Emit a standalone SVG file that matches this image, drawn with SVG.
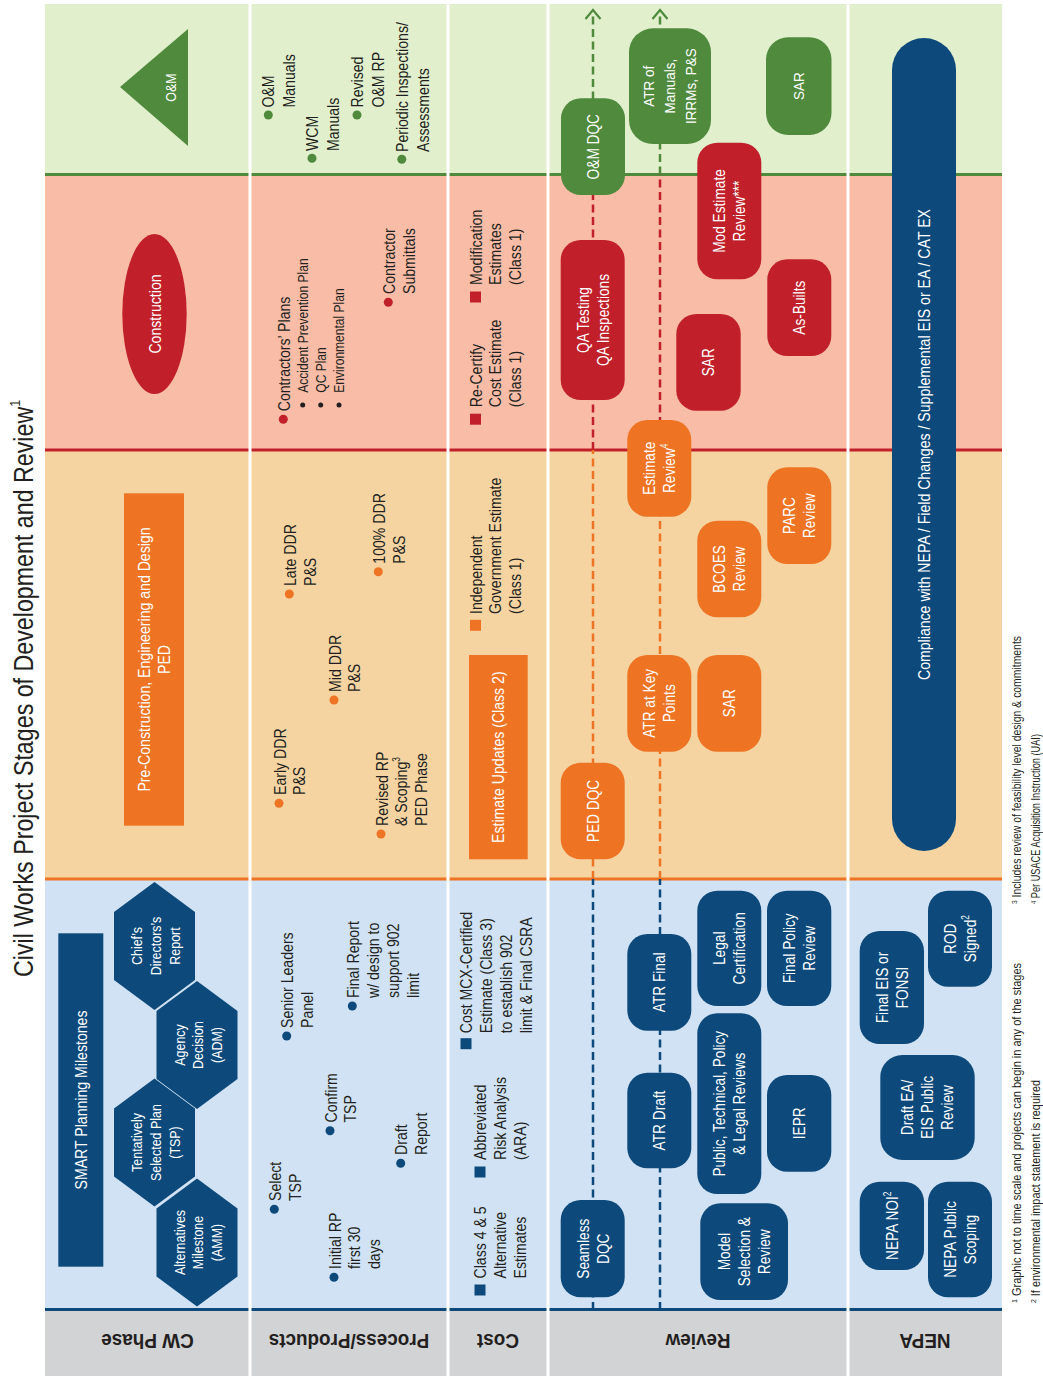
<svg xmlns="http://www.w3.org/2000/svg" width="1043" height="1376" viewBox="0 0 1043 1376">
<style>
text{font-family:"Liberation Sans",Arial,Helvetica,sans-serif;}
.w{fill:#fff}
.k{fill:#231f20}
.m{text-anchor:middle}
.s17{font-size:17px}
.s16{font-size:16.5px}
.s14{font-size:14.5px}
.s15{font-size:15px}
.hd{font-size:21px;font-weight:bold;fill:#231f20;text-anchor:middle}
.bb{fill:#0d4a7b}
.ob{fill:#ee7424}
.rb{fill:#c1202b}
.gb{fill:#4f8a3d}
.sep{stroke:#fff;stroke-width:3}
.dash{fill:none;stroke-width:2.5;stroke-dasharray:8 4.5}
.arr{fill:none;stroke:#4f8a3d;stroke-width:2.2}
</style>
<g transform="translate(0,1376) rotate(-90)">
  <!-- backgrounds -->
  <g id="backgrounds">
    <rect x="0" y="45" width="65" height="957" fill="#d2d3d5"/>
    <rect x="65" y="45" width="432" height="957" fill="#d0e2f3"/>
    <rect x="497" y="45" width="429" height="957" fill="#f5d4a2"/>
    <rect x="926" y="45" width="275.5" height="957" fill="#f9bca6"/>
    <rect x="1201.5" y="45" width="170.5" height="957" fill="#e1efcd"/>
    <line x1="66.5" y1="45" x2="66.5" y2="1002" stroke="#0d4a7b" stroke-width="3"/>
    <line x1="497" y1="45" x2="497" y2="1002" stroke="#ee7424" stroke-width="3"/>
    <line x1="926" y1="45" x2="926" y2="1002" stroke="#c1202b" stroke-width="3"/>
    <line x1="1201.5" y1="45" x2="1201.5" y2="1002" stroke="#4f8a3d" stroke-width="3"/>
    <line class="sep" x1="0" y1="250" x2="1372" y2="250"/>
    <line class="sep" x1="0" y1="448" x2="1372" y2="448"/>
    <line class="sep" x1="0" y1="548" x2="1372" y2="548"/>
    <line class="sep" x1="0" y1="848" x2="1372" y2="848"/>
  </g>

  <text id="title" class="k" font-size="28" transform="translate(399,33) scale(.83,1)">Civil Works Project Stages of Development and Review<tspan font-size="15" dy="-13">1</tspan></text>

  <!-- connectors -->
  <g id="connectors">
    <line class="dash" stroke="#0d4a7b" x1="66" y1="593" x2="497" y2="593"/>
    <line class="dash" stroke="#ee7424" x1="497" y1="593" x2="926" y2="593"/>
    <line class="dash" stroke="#c1202b" x1="926" y1="593" x2="1201.5" y2="593"/>
    <line class="dash" stroke="#4f8a3d" x1="1201.5" y1="593" x2="1365" y2="593"/>
    <polyline class="arr" points="1357,585.5 1366,593 1357,600.5"/>
    <line class="dash" stroke="#0d4a7b" x1="66" y1="660" x2="497" y2="660"/>
    <line class="dash" stroke="#ee7424" x1="497" y1="660" x2="926" y2="660"/>
    <line class="dash" stroke="#c1202b" x1="926" y1="660" x2="1201.5" y2="660"/>
    <line class="dash" stroke="#4f8a3d" x1="1201.5" y1="660" x2="1365" y2="660"/>
    <polyline class="arr" points="1357,652.5 1366,660 1357,667.5"/>
  </g>

  <!-- CW phase row -->
  <g id="smart">
    <rect class="bb" x="109.3" y="58.3" width="333.4" height="45"/>
    <text class="w m s17" transform="translate(276,87) scale(.83,1)">SMART Planning Milestones</text>
  </g>
  <g id="hex-amm">
    <polygon class="bb" points="69.5,197 99.5,156.5 167.5,156.5 197.5,197 167.5,237.5 99.5,237.5"/>
    <text class="w m s14" transform="translate(133.5,184.5) scale(.86,1)"><tspan x="0" y="0">Alternatives</tspan><tspan x="0" y="19">Milestone</tspan><tspan x="0" y="38">(AMM)</tspan></text>
  </g>
  <g id="hex-tsp">
    <polygon class="bb" points="169.5,154.5 199.5,114 267.5,114 297.5,154.5 267.5,195 199.5,195"/>
    <text class="w m s14" transform="translate(233.5,142) scale(.86,1)"><tspan x="0" y="0">Tentatively</tspan><tspan x="0" y="19">Selected Plan</tspan><tspan x="0" y="38">(TSP)</tspan></text>
  </g>
  <g id="hex-adm">
    <polygon class="bb" points="267,197 297,156.5 365,156.5 395,197 365,237.5 297,237.5"/>
    <text class="w m s14" transform="translate(331,184.5) scale(.86,1)"><tspan x="0" y="0">Agency</tspan><tspan x="0" y="19">Decision</tspan><tspan x="0" y="38">(ADM)</tspan></text>
  </g>
  <g id="hex-chief">
    <polygon class="bb" points="366,154.5 396,114 464,114 494,154.5 464,195 396,195"/>
    <text class="w m s14" transform="translate(430,142) scale(.86,1)"><tspan x="0" y="0">Chief’s</tspan><tspan x="0" y="19">Directors’s</tspan><tspan x="0" y="38">Report</tspan></text>
  </g>

  <g id="pe-ped">
    <rect class="ob" x="550.3" y="124" width="332.4" height="60"/>
    <text class="w m s17" transform="translate(716.5,150) scale(.83,1)"><tspan x="0" y="0">Pre-Construction, Engineering and Design</tspan><tspan x="0" y="20">PED</tspan></text>
  </g>
  <g id="construction">
    <ellipse class="rb" cx="1062" cy="154.5" rx="80" ry="32.2"/>
    <text class="w m s17" transform="translate(1062,160.6) scale(.83,1)">Construction</text>
  </g>
  <g id="om">
    <polygon class="gb" points="1230,188 1347,188 1289,120"/>
    <text class="w m s15" transform="translate(1288.5,176) scale(.83,1)">O&amp;M</text>
  </g>

  <!-- Process/Products -->
  <g id="p-select"><circle class="bb" cx="166.7" cy="274.3" r="4.5"/>
    <text class="k s17" transform="translate(175,281) scale(.83,1)"><tspan x="0" y="0">Select</tspan><tspan x="0" y="20">TSP</tspan></text></g>
  <g id="p-initial"><circle class="bb" cx="98.7" cy="334" r="4.5"/>
    <text class="k s17" transform="translate(107,340.5) scale(.83,1)"><tspan x="0" y="0">Initial RP</tspan><tspan x="0" y="20">first 30</tspan><tspan x="0" y="40">days</tspan></text></g>
  <g id="p-confirm"><circle class="bb" cx="245.3" cy="330" r="4.5"/>
    <text class="k s17" transform="translate(253.5,336.5) scale(.83,1)"><tspan x="0" y="0">Confirm</tspan><tspan x="0" y="20">TSP</tspan></text></g>
  <g id="p-draft"><circle class="bb" cx="212.7" cy="400.7" r="4.5"/>
    <text class="k s17" transform="translate(221,407) scale(.83,1)"><tspan x="0" y="0">Draft</tspan><tspan x="0" y="20">Report</tspan></text></g>
  <g id="p-senior"><circle class="bb" cx="340" cy="286.7" r="4.5"/>
    <text class="k s17" transform="translate(348,293) scale(.83,1)"><tspan x="0" y="0">Senior Leaders</tspan><tspan x="0" y="20">Panel</tspan></text></g>
  <g id="p-final"><circle class="bb" cx="370" cy="352.3" r="4.5"/>
    <text class="k s17" transform="translate(378,358.8) scale(.83,1)"><tspan x="0" y="0">Final Report</tspan><tspan x="0" y="20">w/ design to</tspan><tspan x="0" y="40">support 902</tspan><tspan x="0" y="60">limit</tspan></text></g>

  <g id="p-early"><circle class="ob" cx="572.7" cy="279" r="4.5"/>
    <text class="k s17" transform="translate(581,285.5) scale(.83,1)"><tspan x="0" y="0">Early DDR</tspan><tspan x="0" y="20">P&amp;S</tspan></text></g>
  <g id="p-mid"><circle class="ob" cx="676" cy="334" r="4.5"/>
    <text class="k s17" transform="translate(684,340.5) scale(.83,1)"><tspan x="0" y="0">Mid DDR</tspan><tspan x="0" y="20">P&amp;S</tspan></text></g>
  <g id="p-late"><circle class="ob" cx="782" cy="289.3" r="4.5"/>
    <text class="k s17" transform="translate(790,295.8) scale(.83,1)"><tspan x="0" y="0">Late DDR</tspan><tspan x="0" y="20">P&amp;S</tspan></text></g>
  <g id="p-revised"><circle class="ob" cx="542" cy="381" r="4.5"/>
    <text class="k s17" transform="translate(550,387.5) scale(.83,1)"><tspan x="0" y="0">Revised RP</tspan><tspan x="0" y="20">&amp; Scoping<tspan font-size="10" dy="-7">3</tspan></tspan><tspan x="0" y="40">PED Phase</tspan></text></g>
  <g id="p-100"><circle class="ob" cx="804.3" cy="378.3" r="4.5"/>
    <text class="k s17" transform="translate(812.3,384.8) scale(.83,1)"><tspan x="0" y="0">100% DDR</tspan><tspan x="0" y="20">P&amp;S</tspan></text></g>

  <g id="p-contractors"><circle class="rb" cx="956.7" cy="283.3" r="4.5"/>
    <text class="k s17" transform="translate(964.7,289.8) scale(.83,1)">Contractors’ Plans</text>
    <circle class="k" cx="971" cy="302.7" r="2.5"/><circle class="k" cx="971" cy="320.7" r="2.5"/><circle class="k" cx="971" cy="339" r="2.5"/>
    <text class="k s14" transform="translate(983.3,308) scale(.83,1)"><tspan x="0" y="0">Accident Prevention Plan</tspan><tspan x="0" y="18">QC Plan</tspan><tspan x="0" y="36">Environmental Plan</tspan></text></g>
  <g id="p-submittals"><circle class="rb" cx="1073.7" cy="388.3" r="4.5"/>
    <text class="k s17" transform="translate(1082,394.8) scale(.83,1)"><tspan x="0" y="0">Contractor</tspan><tspan x="0" y="20">Submittals</tspan></text></g>

  <g id="p-om-manuals"><circle class="gb" cx="1261" cy="268.3" r="4.5"/>
    <text class="k" font-size="16" transform="translate(1268.5,274) scale(.88,1)"><tspan x="0" y="0">O&amp;M</tspan><tspan x="0" y="21.5">Manuals</tspan></text></g>
  <g id="p-wcm"><circle class="gb" cx="1217.7" cy="312" r="4.5"/>
    <text class="k" font-size="16" transform="translate(1225,318) scale(.88,1)"><tspan x="0" y="0">WCM</tspan><tspan x="0" y="21.5">Manuals</tspan></text></g>
  <g id="p-om-rp"><circle class="gb" cx="1261" cy="357" r="4.5"/>
    <text class="k" font-size="16" transform="translate(1268.5,363) scale(.88,1)"><tspan x="0" y="0">Revised</tspan><tspan x="0" y="21.5">O&amp;M RP</tspan></text></g>
  <g id="p-periodic"><circle class="gb" cx="1216.7" cy="401.8" r="4.5"/>
    <text class="k" font-size="16" transform="translate(1224,407.5) scale(.88,1)"><tspan x="0" y="0">Periodic Inspections/</tspan><tspan x="0" y="21.5">Assessments</tspan></text></g>

  <!-- Cost -->
  <g id="c-class45"><rect class="bb" x="80.5" y="474.5" width="11" height="11"/>
    <text class="k s17" transform="translate(97.5,486) scale(.83,1)"><tspan x="0" y="0">Class 4 &amp; 5</tspan><tspan x="0" y="20">Alternative</tspan><tspan x="0" y="40">Estimates</tspan></text></g>
  <g id="c-ara"><rect class="bb" x="198.5" y="474.5" width="11" height="11"/>
    <text class="k s17" transform="translate(216,486) scale(.83,1)"><tspan x="0" y="0">Abbreviated</tspan><tspan x="0" y="20">Risk Analysis</tspan><tspan x="0" y="40">(ARA)</tspan></text></g>
  <g id="c-mcx"><rect class="bb" x="326.8" y="460.5" width="11" height="11"/>
    <text class="k s17" transform="translate(342.7,472) scale(.83,1)"><tspan x="0" y="0">Cost MCX-Certified</tspan><tspan x="0" y="20">Estimate (Class 3)</tspan><tspan x="0" y="40">to establish 902</tspan><tspan x="0" y="60">limit &amp; Final CSRA</tspan></text></g>
  <g id="c-updates">
    <rect class="ob" x="516.7" y="469" width="204.3" height="58.7"/>
    <text class="w m s17" transform="translate(618.8,504.4) scale(.83,1)">Estimate Updates (Class 2)</text></g>
  <g id="c-igE"><rect class="ob" x="745.2" y="470" width="11" height="11"/>
    <text class="k s17" transform="translate(762,481.5) scale(.83,1)"><tspan x="0" y="0">Independent</tspan><tspan x="0" y="20">Government Estimate</tspan><tspan x="0" y="40">(Class 1)</tspan></text></g>
  <g id="c-recertify"><rect class="rb" x="951.3" y="470" width="11" height="11"/>
    <text class="k s17" transform="translate(968.7,481.5) scale(.83,1)"><tspan x="0" y="0">Re-Certify</tspan><tspan x="0" y="20">Cost Estimate</tspan><tspan x="0" y="40">(Class 1)</tspan></text></g>
  <g id="c-mod"><rect class="rb" x="1073.5" y="470" width="11" height="11"/>
    <text class="k s17" transform="translate(1091,481.5) scale(.83,1)"><tspan x="0" y="0">Modification</tspan><tspan x="0" y="20">Estimates</tspan><tspan x="0" y="40">(Class 1)</tspan></text></g>

  <!-- Review CW -->
  <g id="r-seamless"><rect class="bb" x="78.7" y="560.7" width="97.3" height="64" rx="20"/>
    <text class="w m s16" transform="translate(127.3,588.6) scale(.83,1)"><tspan x="0" y="0">Seamless</tspan><tspan x="0" y="20">DQC</tspan></text></g>
  <g id="r-atr-draft"><rect class="bb" x="207.7" y="627.3" width="95.6" height="64" rx="20"/>
    <text class="w m s16" transform="translate(255.5,665.2) scale(.83,1)">ATR Draft</text></g>
  <g id="r-atr-final"><rect class="bb" x="345.3" y="627.3" width="96.7" height="64" rx="20"/>
    <text class="w m s16" transform="translate(393.7,665.2) scale(.83,1)">ATR Final</text></g>
  <g id="r-model"><rect class="bb" x="76" y="700.3" width="96.7" height="87.7" rx="20"/>
    <text class="w m s16" transform="translate(124.3,730.1) scale(.83,1)"><tspan x="0" y="0">Model</tspan><tspan x="0" y="20">Selection &amp;</tspan><tspan x="0" y="40">Review</tspan></text></g>
  <g id="r-public"><rect class="bb" x="182" y="697.3" width="180.7" height="64" rx="20"/>
    <text class="w m s16" transform="translate(272.3,725.2) scale(.83,1)"><tspan x="0" y="0">Public, Technical, Policy</tspan><tspan x="0" y="20">&amp; Legal Reviews</tspan></text></g>
  <g id="r-iepr"><rect class="bb" x="204.3" y="767" width="96.7" height="64.3" rx="20"/>
    <text class="w m s16" transform="translate(252.7,805.1) scale(.83,1)">IEPR</text></g>
  <g id="r-legal"><rect class="bb" x="370" y="697.3" width="115.3" height="64" rx="20"/>
    <text class="w m s16" transform="translate(427.7,725.2) scale(.83,1)"><tspan x="0" y="0">Legal</tspan><tspan x="0" y="20">Certification</tspan></text></g>
  <g id="r-final-policy"><rect class="bb" x="370" y="767" width="115.3" height="64.3" rx="20"/>
    <text class="w m s16" transform="translate(427.7,795.1) scale(.83,1)"><tspan x="0" y="0">Final Policy</tspan><tspan x="0" y="20">Review</tspan></text></g>

  <!-- Review PED -->
  <g id="r-ped-dqc"><rect class="ob" x="516.7" y="560.7" width="96.6" height="64" rx="20"/>
    <text class="w m s16" transform="translate(565,598.6) scale(.83,1)">PED DQC</text></g>
  <g id="r-atr-key"><rect class="ob" x="624.3" y="627.3" width="96.7" height="64" rx="20"/>
    <text class="w m s16" transform="translate(672.7,655.2) scale(.83,1)"><tspan x="0" y="0">ATR at Key</tspan><tspan x="0" y="20">Points</tspan></text></g>
  <g id="r-sar-ped"><rect class="ob" x="624.3" y="697.3" width="96.7" height="64" rx="20"/>
    <text class="w m s16" transform="translate(672.7,735.2) scale(.83,1)">SAR</text></g>
  <g id="r-est-review"><rect class="ob" x="859.3" y="627.3" width="96.7" height="64" rx="20"/>
    <text class="w m s16" transform="translate(907.7,655.2) scale(.83,1)"><tspan x="0" y="0">Estimate</tspan><tspan x="0" y="20">Review<tspan font-size="10" dy="-7">4</tspan></tspan></text></g>
  <g id="r-bcoes"><rect class="ob" x="758.7" y="697.3" width="96.6" height="64" rx="20"/>
    <text class="w m s16" transform="translate(807,725.2) scale(.83,1)"><tspan x="0" y="0">BCOES</tspan><tspan x="0" y="20">Review</tspan></text></g>
  <g id="r-parc"><rect class="ob" x="812" y="767.3" width="96.7" height="64" rx="20"/>
    <text class="w m s16" transform="translate(860.3,795.2) scale(.83,1)"><tspan x="0" y="0">PARC</tspan><tspan x="0" y="20">Review</tspan></text></g>

  <!-- Review Construction -->
  <g id="r-qa"><rect class="rb" x="976" y="560.7" width="160" height="64" rx="20"/>
    <text class="w m s16" transform="translate(1056,588.6) scale(.83,1)"><tspan x="0" y="0">QA Testing</tspan><tspan x="0" y="20">QA Inspections</tspan></text></g>
  <g id="r-sar-con"><rect class="rb" x="965.3" y="676.3" width="96.7" height="64.4" rx="20"/>
    <text class="w m s16" transform="translate(1013.7,714.4) scale(.83,1)">SAR</text></g>
  <g id="r-mod-est"><rect class="rb" x="1096.7" y="697.3" width="136.6" height="64" rx="20"/>
    <text class="w m s16" transform="translate(1165,725.2) scale(.83,1)"><tspan x="0" y="0">Mod Estimate</tspan><tspan x="0" y="20">Review***</tspan></text></g>
  <g id="r-as-builts"><rect class="rb" x="1020" y="767.3" width="96.7" height="64" rx="20"/>
    <text class="w m s16" transform="translate(1068.3,805.2) scale(.83,1)">As-Builts</text></g>

  <!-- Review O&M -->
  <g id="r-om-dqc"><rect class="gb" x="1181" y="561" width="96.7" height="64" rx="20"/>
    <text class="w m s16" transform="translate(1229.3,599) scale(.83,1)">O&amp;M DQC</text></g>
  <g id="r-atr-manuals"><rect class="gb" x="1232" y="629" width="115.7" height="82" rx="24"/>
    <text class="w m s15" transform="translate(1289.8,654.4) scale(.9,1)"><tspan x="0" y="0">ATR of</tspan><tspan x="0" y="21">Manuals,</tspan><tspan x="0" y="42">IRRMs, P&amp;S</tspan></text></g>
  <g id="r-sar-om"><rect class="gb" x="1241" y="766" width="97.7" height="65.5" rx="22"/>
    <text class="w m s15" transform="translate(1289.8,804.2) scale(.9,1)">SAR</text></g>

  <!-- NEPA -->
  <g id="n-noi"><rect class="bb" x="106" y="859.7" width="88.3" height="64.3" rx="20"/>
    <text class="w m s16" transform="translate(150.2,897.8) scale(.83,1)">NEPA NOI<tspan font-size="10" dy="-7">2</tspan></text></g>
  <g id="n-scoping"><rect class="bb" x="78.7" y="928" width="115.6" height="64" rx="20"/>
    <text class="w m s16" transform="translate(136.5,955.9) scale(.83,1)"><tspan x="0" y="0">NEPA Public</tspan><tspan x="0" y="20">Scoping</tspan></text></g>
  <g id="n-draft-ea"><rect class="bb" x="216" y="880.3" width="105" height="94.4" rx="22"/>
    <text class="w m s16" transform="translate(268.5,913.4) scale(.83,1)"><tspan x="0" y="0">Draft EA/</tspan><tspan x="0" y="20">EIS Public</tspan><tspan x="0" y="40">Review</tspan></text></g>
  <g id="n-final-eis"><rect class="bb" x="332" y="859.7" width="113" height="64.3" rx="20"/>
    <text class="w m s16" transform="translate(388.5,887.8) scale(.83,1)"><tspan x="0" y="0">Final EIS or</tspan><tspan x="0" y="20">FONSI</tspan></text></g>
  <g id="n-rod"><rect class="bb" x="389.3" y="928" width="96" height="64" rx="20"/>
    <text class="w m s16" transform="translate(437.3,955.9) scale(.83,1)"><tspan x="0" y="0">ROD</tspan><tspan x="0" y="20">Signed<tspan font-size="10" dy="-7">2</tspan></tspan></text></g>
  <g id="n-compliance"><rect class="bb" x="525" y="892" width="813" height="64" rx="32"/>
    <text class="w m s17" transform="translate(931.5,930) scale(.83,1)">Compliance with NEPA / Field Changes / Supplemental EIS or EA / CAT EX</text></g>

  <!-- footnotes -->
  <g id="footnotes" class="k">
    <text x="73" y="1021" font-size="12.5" textLength="340" lengthAdjust="spacingAndGlyphs"><tspan font-size="8" dy="-4">1</tspan><tspan dy="4"> Graphic not to time scale and projects can begin in any of the stages</tspan></text>
    <text x="73" y="1040" font-size="12.5" textLength="223" lengthAdjust="spacingAndGlyphs"><tspan font-size="8" dy="-4">2</tspan><tspan dy="4"> If environmental impact statement is required</tspan></text>
    <text x="472" y="1021" font-size="12.5" textLength="268" lengthAdjust="spacingAndGlyphs"><tspan font-size="8" dy="-4">3</tspan><tspan dy="4"> Includes review of feasibility level design &amp; commitments</tspan></text>
    <text x="472" y="1040" font-size="12.5" textLength="170" lengthAdjust="spacingAndGlyphs"><tspan font-size="8" dy="-4">4</tspan><tspan dy="4"> Per USACE Acquisition Instruction (UAI)</tspan></text>
  </g>
</g>

<!-- row headers (upside-down) -->
<g id="row-headers">
  <text class="hd" transform="translate(147.5,1333.5) rotate(180) scale(.9,1)">CW Phase</text>
  <text class="hd" transform="translate(349,1333.5) rotate(180) scale(.9,1)">Process/Products</text>
  <text class="hd" transform="translate(498,1333.5) rotate(180) scale(.9,1)">Cost</text>
  <text class="hd" transform="translate(698,1333.5) rotate(180) scale(.9,1)">Review</text>
  <text class="hd" transform="translate(925,1333.5) rotate(180) scale(.9,1)">NEPA</text>
</g>
</svg>
